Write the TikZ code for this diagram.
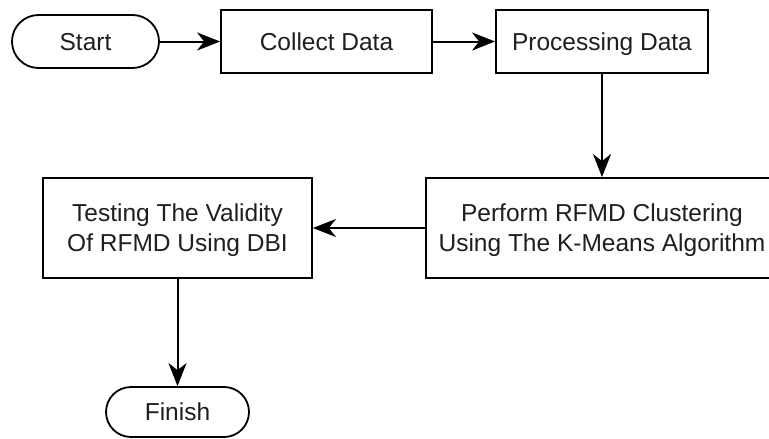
\documentclass[tikz,border=0pt]{standalone}
\usepackage{fontspec}
\setmainfont{Liberation Sans}
\usetikzlibrary{arrows.meta}
\begin{document}
\begin{tikzpicture}[x=1pt,y=-1pt,
  box/.style={draw=black, line width=1.8pt, fill=white, inner sep=0pt, align=center,
    text depth=0pt, font=\fontsize{24.5}{30}\selectfont, text=black!88},
  term/.style={box, rounded corners=#1},
  conn/.style={draw=black, line width=2pt, -{Stealth[length=23pt,width=18pt,inset=7pt]}}]
\useasboundingbox (0,0) rectangle (769,439);
\node[term=26.5pt, minimum width=147pt, minimum height=53pt] (start) at (85.5,41.5) {Start};
\node[box, minimum width=211pt, minimum height=63pt] (collect) at (326.5,41.5) {Collect Data};
\node[box, minimum width=212pt, minimum height=63pt] (proc) at (602,41.5) {Processing Data};
\node[box, minimum width=352pt, minimum height=100pt] (perf) at (602,228) {Perform RFMD Clustering\\Using The K-Means Algorithm};
\node[box, minimum width=269pt, minimum height=100pt] (test) at (177.5,228) {Testing The Validity\\Of RFMD Using DBI};
\node[term=25pt, minimum width=143pt, minimum height=50pt] (fin) at (177.5,412) {Finish};
\draw[conn] (start) -- (collect);
\draw[conn] (collect) -- (proc);
\draw[conn] (proc) -- (perf);
\draw[conn] (perf) -- (test);
\draw[conn] (test) -- (fin);
\end{tikzpicture}
\end{document}
